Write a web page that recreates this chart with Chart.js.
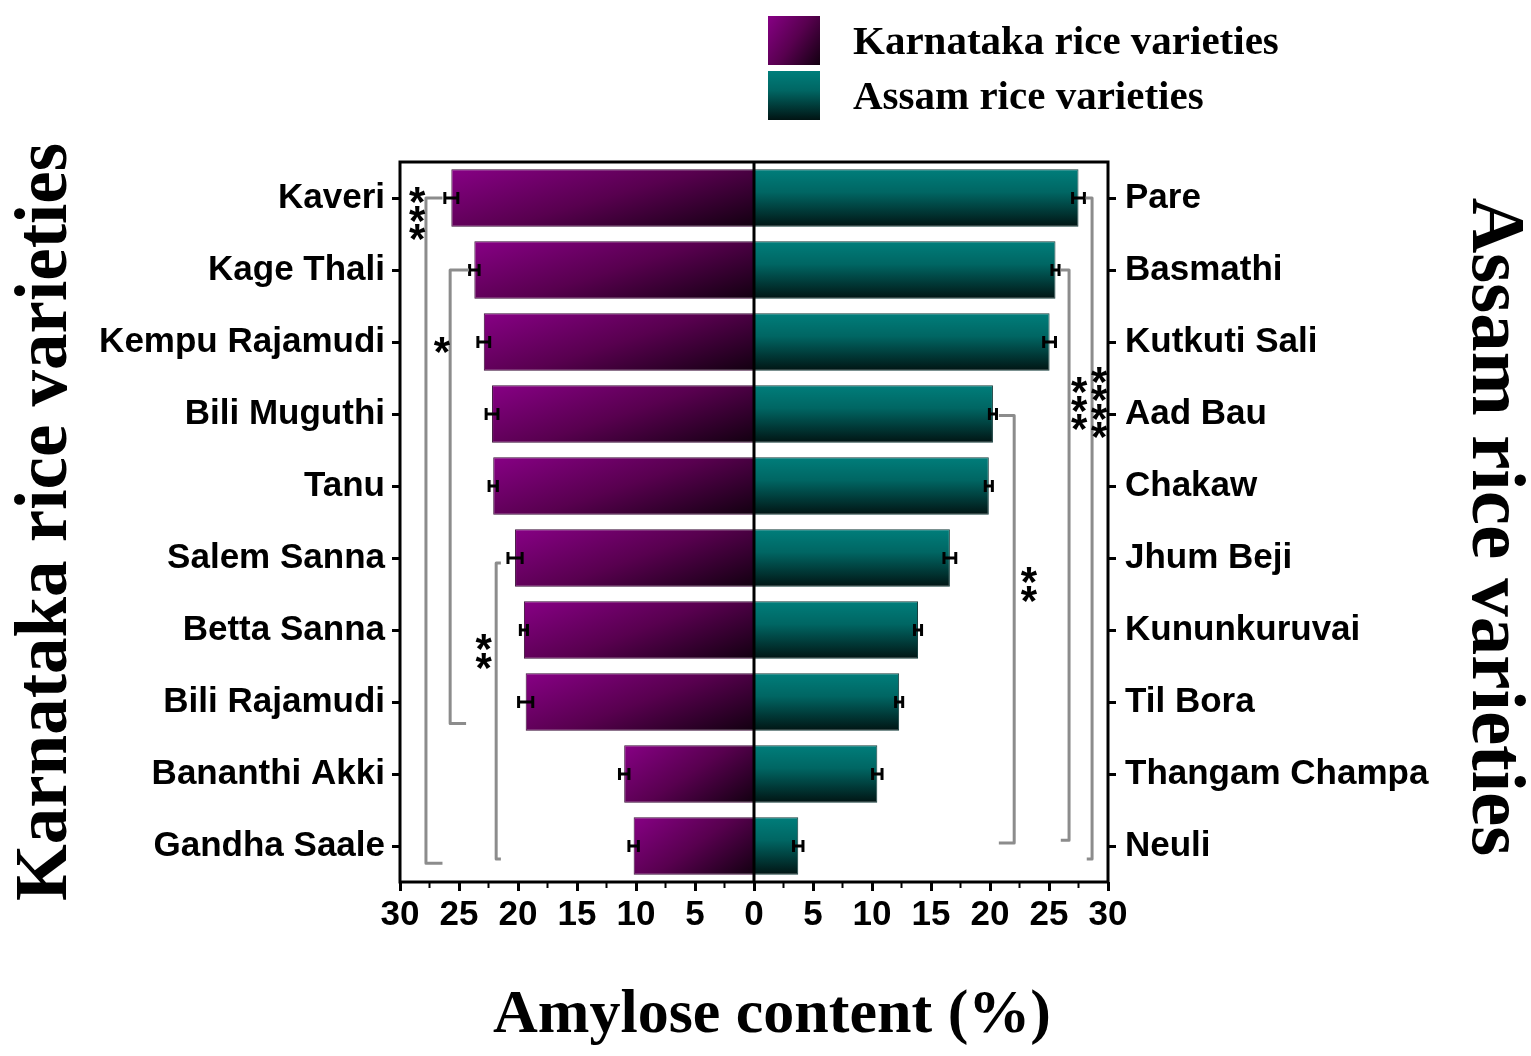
<!DOCTYPE html>
<html>
<head>
<meta charset="utf-8">
<title>Amylose content</title>
<script src="https://cdn.jsdelivr.net/npm/chart.js@4.4.1/dist/chart.umd.min.js"></script>
<style>
  html, body { margin: 0; padding: 0; background: #fff; }
</style>
</head>
<body>
<canvas id="grafico" width="1531" height="1056"></canvas>
<script>
// Dados (amilose, %)
const karnatakaNames = ['Kaveri', 'Kage Thali', 'Kempu Rajamudi', 'Bili Muguthi', 'Tanu',
  'Salem Sanna', 'Betta Sanna', 'Bili Rajamudi', 'Bananthi Akki', 'Gandha Saale'];
const karnatakaValues = [25.65, 23.7, 22.9, 22.2, 22.1, 20.25, 19.5, 19.35, 11.0, 10.2];
const karnatakaErrors = [0.55, 0.4, 0.5, 0.5, 0.35, 0.6, 0.3, 0.6, 0.4, 0.4];

const assamNames = ['Pare', 'Basmathi', 'Kutkuti Sali', 'Aad Bau', 'Chakaw',
  'Jhum Beji', 'Kununkuruvai', 'Til Bora', 'Thangam Champa', 'Neuli'];
const assamValues = [27.5, 25.55, 25.05, 20.25, 19.9, 16.6, 13.9, 12.3, 10.45, 3.75];
const assamErrors = [0.5, 0.3, 0.5, 0.3, 0.3, 0.5, 0.3, 0.3, 0.4, 0.4];

const xTickValues = [-30, -25, -20, -15, -10, -5, 0, 5, 10, 15, 20, 25, 30];

// Colchetes de significância (categoria inicial/final, posições em % de amilose)
const brackets = [
  { from: 0, to: 9.24, spine: -27.8, topEnd: -26.4, bottomEnd: -26.4, stars: 3, starX: -28.55, starY: 0.18 },
  { from: 1, to: 7.3, spine: -25.75, topEnd: -24.15, bottomEnd: -24.4, stars: 1, starX: -26.45, starY: 2 },
  { from: 5.07, to: 9.18, spine: -21.85, topEnd: -21.45, bottomEnd: -21.45, stars: 2, starX: -22.9, starY: 6.26 },
  { from: 0, to: 9.18, spine: 28.65, topEnd: 28.1, bottomEnd: 28.2, stars: 4, starX: 29.25, starY: 2.8 },
  { from: 1, to: 8.92, spine: 26.7, topEnd: 26.0, bottomEnd: 26.0, stars: 3, starX: 27.55, starY: 2.82 },
  { from: 3.02, to: 8.96, spine: 22.05, topEnd: 20.75, bottomEnd: 20.75, stars: 2, starX: 23.3, starY: 5.33 }
];

const sansFont = '"Liberation Sans", Arial, sans-serif';
const serifFont = '"Liberation Serif", "Times New Roman", serif';

function barBox(ctx) {
  const chart = ctx.chart;
  const xs = chart.scales.x, ys = chart.scales.y;
  const yc = ys.getPixelForValue(ctx.dataIndex);
  const half = Math.abs(ys.getPixelForValue(1) - ys.getPixelForValue(0)) * 0.4;
  return { xEnd: xs.getPixelForValue(ctx.raw), x0: xs.getPixelForValue(0), top: yc - half, h: half * 2 };
}

// gradiente diagonal roxo (claro em cima/à esquerda, preto embaixo/perto do zero)
function purpleGradient(c, x, y, w, h) {
  const L2 = 1 / (0.36 / (w * w) + 0.16 / (h * h));
  const g = c.createLinearGradient(x, y, x + 0.6 * L2 / w, y + 0.4 * L2 / h);
  g.addColorStop(0, '#870085');
  g.addColorStop(0.5, '#58004f');
  g.addColorStop(1, '#120010');
  return g;
}

function tealGradient(c, y, h) {
  const g = c.createLinearGradient(0, y, 0, y + h);
  g.addColorStop(0, '#007e7b');
  g.addColorStop(0.4, '#006663');
  g.addColorStop(1, '#011413');
  return g;
}

function purpleFill(ctx) {
  if (ctx.type !== 'data' || !ctx.chart.chartArea) return '#6b006b';
  const b = barBox(ctx);
  return purpleGradient(ctx.chart.ctx, b.xEnd, b.top, Math.max(Math.abs(b.x0 - b.xEnd), 1), b.h);
}

function tealFill(ctx) {
  if (ctx.type !== 'data' || !ctx.chart.chartArea) return '#006a68';
  const b = barBox(ctx);
  return tealGradient(ctx.chart.ctx, b.top, b.h);
}

// Linhas extras: moldura, linha do zero, ticks menores
const frame = {
  id: 'frame',
  afterDatasetsDraw(chart) {
    const c = chart.ctx, a = chart.chartArea, xs = chart.scales.x;
    c.save();
    c.strokeStyle = '#000';
    c.lineWidth = 3;
    const x0 = xs.getPixelForValue(0);
    c.beginPath(); c.moveTo(x0, a.top); c.lineTo(x0, a.bottom); c.stroke();
    c.strokeRect(a.left, a.top, a.right - a.left, a.bottom - a.top);
    c.lineWidth = 2;
    for (let v = -27.5; v < 30; v += 5) {
      const x = xs.getPixelForValue(v);
      c.beginPath(); c.moveTo(x, a.bottom); c.lineTo(x, a.bottom + 6); c.stroke();
    }
    c.restore();
  }
};

const errorBars = {
  id: 'errorBars',
  afterDatasetsDraw(chart) {
    const c = chart.ctx, xs = chart.scales.x;
    const errs = [karnatakaErrors, assamErrors];
    c.save();
    c.strokeStyle = '#000';
    c.lineWidth = 3;
    chart.data.datasets.forEach((ds, d) => {
      chart.getDatasetMeta(d).data.forEach((bar, i) => {
        const v = ds.data[i], e = errs[d][i];
        const a = xs.getPixelForValue(v - e), b = xs.getPixelForValue(v + e);
        c.beginPath();
        c.moveTo(a, bar.y); c.lineTo(b, bar.y);
        c.moveTo(a, bar.y - 6); c.lineTo(a, bar.y + 6);
        c.moveTo(b, bar.y - 6); c.lineTo(b, bar.y + 6);
        c.stroke();
      });
    });
    c.restore();
  }
};

const significance = {
  id: 'significance',
  afterDatasetsDraw(chart) {
    const c = chart.ctx, xs = chart.scales.x, ys = chart.scales.y;
    const starSize = 42;
    c.save();
    c.strokeStyle = '#8c8c8c';
    c.lineWidth = 3;
    c.lineJoin = 'round';
    brackets.forEach(b => {
      const yt = ys.getPixelForValue(b.from), yb = ys.getPixelForValue(b.to);
      const xs0 = xs.getPixelForValue(b.spine);
      c.beginPath();
      c.moveTo(xs.getPixelForValue(b.topEnd), yt);
      c.lineTo(xs0, yt);
      c.lineTo(xs0, yb);
      c.lineTo(xs.getPixelForValue(b.bottomEnd), yb);
      c.stroke();
      // asteriscos empilhados
      c.fillStyle = '#000';
      c.font = 'bold ' + starSize + 'px ' + sansFont;
      c.textAlign = 'center';
      c.textBaseline = 'alphabetic';
      const sx = xs.getPixelForValue(b.starX), sy = ys.getPixelForValue(b.starY);
      for (let k = 0; k < b.stars; k++) {
        const cy = sy + (k - (b.stars - 1) / 2) * 18.5;
        c.fillText('*', sx, cy + 0.57 * starSize);
      }
    });
    c.restore();
  }
};

// Títulos e legenda
const titles = {
  id: 'titles',
  afterDraw(chart) {
    const c = chart.ctx;
    c.save();
    c.fillStyle = '#000';
    c.textAlign = 'center';
    c.textBaseline = 'middle';

    c.save();
    c.translate(47, 522);
    c.rotate(-Math.PI / 2);
    c.font = 'bold 73px ' + serifFont;
    c.fillText('Karnataka rice varieties', 0, 0);
    c.restore();

    c.save();
    c.translate(1493, 527);
    c.rotate(Math.PI / 2);
    c.font = 'bold 77px ' + serifFont;
    c.fillText('Assam rice varieties', 0, 0);
    c.restore();

    c.font = 'bold 62px ' + serifFont;
    c.textBaseline = 'alphabetic';
    c.fillText('Amylose content (%)', 772, 1032);

    // legenda
    c.fillStyle = purpleGradient(c, 768, 16, 52, 49);
    c.fillRect(768, 16, 52, 49);
    c.fillStyle = tealGradient(c, 71, 49);
    c.fillRect(768, 71, 52, 49);
    c.fillStyle = '#000';
    c.textAlign = 'left';
    c.font = 'bold 41px ' + serifFont;
    c.fillText(chart.data.datasets[0].label, 853, 54);
    c.fillText(chart.data.datasets[1].label, 853, 109);
    c.restore();
  }
};

Chart.defaults.color = '#000';
Chart.defaults.font.family = sansFont;

const ctxGrafico = document.getElementById('grafico').getContext('2d');
const grafico = new Chart(ctxGrafico, {
  type: 'bar',
  data: {
    labels: karnatakaNames,
    datasets: [{
      label: 'Karnataka rice varieties',
      data: karnatakaValues.map(v => -v),
      backgroundColor: purpleFill,
      borderColor: '#3a0c37',
      borderWidth: 1,
      barPercentage: 0.8,
      categoryPercentage: 1.0
    }, {
      label: 'Assam rice varieties',
      data: assamValues,
      backgroundColor: tealFill,
      borderColor: '#163d3c',
      borderWidth: 1,
      barPercentage: 0.8,
      categoryPercentage: 1.0
    }]
  },
  options: {
    indexAxis: 'y',
    responsive: false,
    animation: false,
    layout: { padding: { top: 162, left: 0, right: 0, bottom: 0 } },
    plugins: {
      legend: { display: false },
      tooltip: { enabled: false }
    },
    scales: {
      x: {
        type: 'linear',
        stacked: true,
        min: -30,
        max: 30,
        afterBuildTicks: s => { s.ticks = xTickValues.map(v => ({ value: v })); },
        afterFit: s => { s.height = 174; },
        border: { display: false },
        grid: { drawOnChartArea: false, tickLength: 9, tickWidth: 3, tickColor: '#000' },
        ticks: {
          padding: 3,
          autoSkip: false,
          maxRotation: 0,
          font: { size: 35, weight: 'bold' },
          callback: v => Math.abs(v)
        }
      },
      y: {
        type: 'category',
        stacked: true,
        position: 'left',
        offset: true,
        afterFit: s => { s.width = 400; },
        border: { display: false },
        grid: { drawOnChartArea: false, offset: false, tickLength: 8, tickWidth: 3, tickColor: '#000' },
        ticks: { padding: 7, autoSkip: false, font: { size: 35, weight: 'bold' } }
      },
      y2: {
        type: 'category',
        labels: assamNames,
        position: 'right',
        offset: true,
        afterFit: s => { s.width = 423; },
        border: { display: false },
        grid: { drawOnChartArea: false, offset: false, tickLength: 8, tickWidth: 3, tickColor: '#000' },
        ticks: { padding: 9, autoSkip: false, font: { size: 35, weight: 'bold' } }
      }
    }
  },
  plugins: [frame, errorBars, significance, titles]
});
</script>
</body>
</html>
